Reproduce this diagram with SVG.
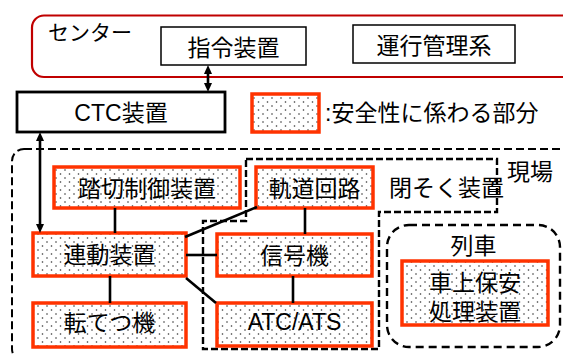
<svg xmlns="http://www.w3.org/2000/svg" width="563" height="356" viewBox="0 0 563 356">
<defs>
<pattern id="dots" width="9" height="8" patternUnits="userSpaceOnUse">
<rect width="9" height="8" fill="#fff"/>
<circle cx="2" cy="2" r="0.8" fill="#333"/>
<circle cx="6.5" cy="6" r="0.8" fill="#333"/>
</pattern>
<marker id="ah" markerUnits="userSpaceOnUse" markerWidth="9" markerHeight="8" refX="0" refY="4" orient="auto-start-reverse" viewBox="0 0 9 8">
<path d="M0,0 L9,4 L0,8 z" fill="#000"/>
</marker>
<style>
text{font-family:"Liberation Sans","Noto Sans CJK JP",sans-serif;font-size:23px;fill:#000}
.c{text-anchor:middle}
.safe{fill:url(#dots);stroke:#ff3300;stroke-width:3.5}
.plain{fill:#fff;stroke:#000;stroke-width:1.5}
.ln{stroke:#000;stroke-width:2.6;fill:none}
.dash{fill:none;stroke:#000;stroke-width:2;stroke-dasharray:8 4}
</style>
</defs>

<g id="center">
<rect x="32" y="15.5" width="560" height="61.5" rx="12" fill="#fff" stroke="#c00000" stroke-width="2.2"/>
<text x="48" y="40" style="font-size:21px">センター</text>
</g>
<g id="shirei">
<rect class="plain" x="161" y="27" width="145" height="38"/>
<text class="c" x="233.5" y="56">指令装置</text>
</g>
<g id="unko">
<rect class="plain" x="353" y="25" width="162" height="38"/>
<text class="c" x="434" y="54">運行管理系</text>
</g>
<g id="ctc">
<rect x="17" y="92" width="208" height="40" fill="#fff" stroke="#000" stroke-width="2.8"/>
<text class="c" x="121" y="121">CTC装置</text>
</g>
<g id="legend">
<rect class="safe" x="252" y="94" width="67" height="38"/>
<text x="325" y="121">:安全性に係わる部分</text>
</g>

<g id="genba">
<rect class="dash" x="12" y="149" width="600" height="212" rx="12"/>
<text x="507" y="180">現場</text>
</g>
<g id="heisoku">
<path d="M246,159 H497 V212 H379 V349 H203 V221 H246 Z" fill="none" stroke="#000" stroke-width="2.4" stroke-dasharray="7 3"/>
<text x="389" y="196">閉そく装置</text>
</g>
<g id="ressha">
<rect x="387" y="225" width="173" height="122" rx="22" fill="none" stroke="#000" stroke-width="2.4" stroke-dasharray="8 5"/>
<text class="c" x="473.5" y="254">列車</text>
</g>

<g id="fumikiri">
<rect class="safe" x="54" y="167" width="186" height="41"/>
<text class="c" x="147" y="196.5">踏切制御装置</text>
</g>
<g id="kido">
<rect class="safe" x="256" y="167" width="117" height="41"/>
<text class="c" x="314.5" y="196.5">軌道回路</text>
</g>
<g id="rendo">
<rect class="safe" x="33" y="233" width="153" height="43"/>
<text class="c" x="109.5" y="263">連動装置</text>
</g>
<g id="shingo">
<rect class="safe" x="217" y="234" width="155" height="42"/>
<text class="c" x="294.5" y="264">信号機</text>
</g>
<g id="tentetsu">
<rect class="safe" x="33" y="303" width="153" height="44"/>
<text class="c" x="109.5" y="331">転てつ機</text>
</g>
<g id="atc">
<rect class="safe" x="217" y="303" width="155" height="43"/>
<text class="c" x="294.5" y="330">ATC/ATS</text>
</g>
<g id="shajo">
<rect class="safe" x="402" y="261" width="146" height="64"/>
<text class="c" x="475" y="291">車上保安</text>
<text class="c" x="475" y="320">処理装置</text>
</g>

<g id="connectors">
<line class="ln" x1="208" y1="74" x2="208" y2="83" stroke-width="3" marker-start="url(#ah)" marker-end="url(#ah)"/>
<line class="ln" x1="40" y1="141" x2="40" y2="224" stroke-width="2" marker-start="url(#ah)" marker-end="url(#ah)"/>
<line class="ln" x1="115" y1="208" x2="115" y2="233"/>
<line class="ln" x1="110" y1="276" x2="110" y2="303"/>
<line class="ln" x1="186" y1="255" x2="217" y2="255"/>
<line class="ln" x1="185" y1="237" x2="257" y2="207"/>
<line class="ln" x1="186" y1="278" x2="216" y2="303"/>
<line class="ln" x1="305" y1="208" x2="305" y2="234"/>
<line class="ln" x1="293" y1="276" x2="293" y2="303"/>
</g>
</svg>
